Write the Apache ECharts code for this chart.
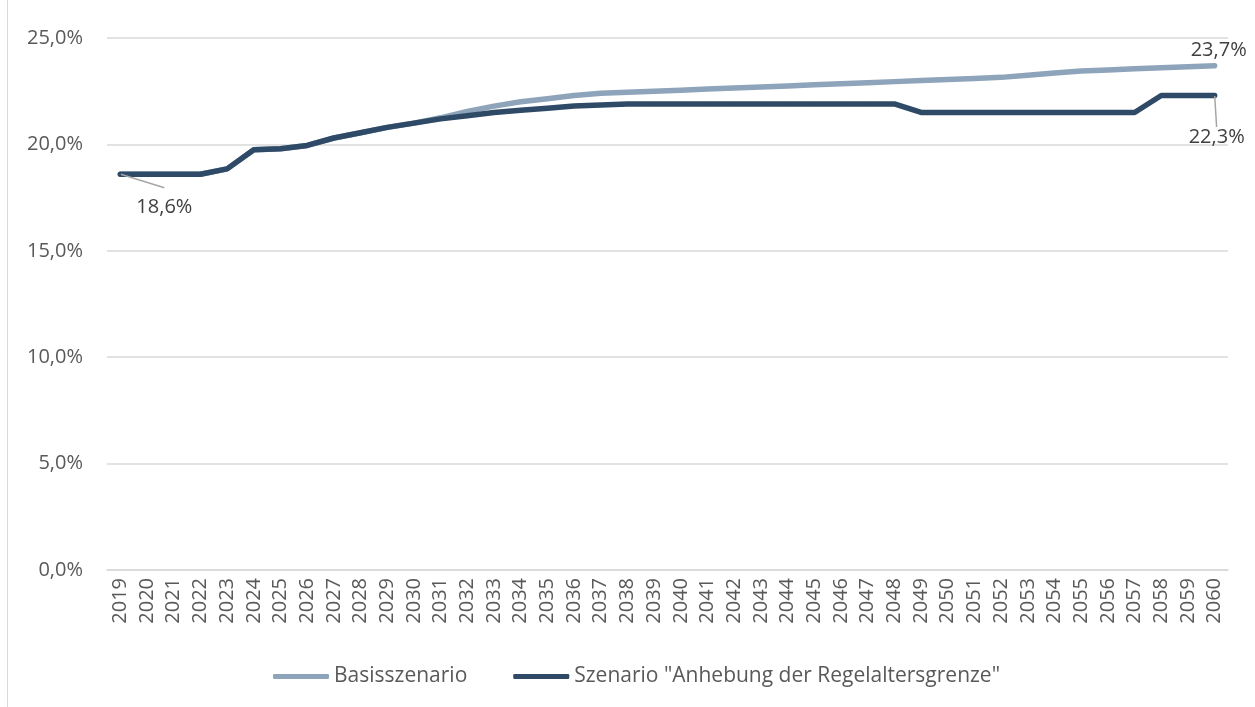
<!DOCTYPE html>
<html>
<head>
<meta charset="utf-8">
<script src="https://cdn.jsdelivr.net/npm/echarts@6/dist/echarts.min.js"></script>
<style>
  html, body { margin: 0; padding: 0; background: #fff; }
  #chart { width: 1255px; height: 707px; }
</style>
</head>
<body>
<div id="chart"></div>
<script>
// Jahre 2019 - 2060
var years = [];
for (var y = 2019; y <= 2060; y++) years.push(String(y));

var basis = [
  18.6, 18.6, 18.6, 18.6, 18.85, 19.75, 19.8, 19.95, 20.3, 20.55,
  20.8, 21.0, 21.25, 21.55, 21.8, 22.0, 22.15, 22.3, 22.4, 22.45,
  22.5, 22.55, 22.6, 22.65, 22.7, 22.75, 22.8, 22.85, 22.9, 22.95,
  23.0, 23.05, 23.1, 23.15, 23.25, 23.35, 23.45, 23.5, 23.55, 23.6,
  23.65, 23.7
];

var anhebung = [
  18.6, 18.6, 18.6, 18.6, 18.85, 19.75, 19.8, 19.95, 20.3, 20.55,
  20.8, 21.0, 21.2, 21.35, 21.5, 21.6, 21.7, 21.8, 21.85, 21.9,
  21.9, 21.9, 21.9, 21.9, 21.9, 21.9, 21.9, 21.9, 21.9, 21.9,
  21.5, 21.5, 21.5, 21.5, 21.5, 21.5, 21.5, 21.5, 21.5, 22.3,
  22.3, 22.3
];

var yTicks = [0, 5, 10, 15, 20, 25];

var FONT = 'Open Sans';
var txtColor = '#595959';

function fmt(v) {
  return v.toFixed(1).replace('.', ',') + '%';
}

// idxs: { dataIndex: extra label options }
function withLabels(arr, idxs) {
  return arr.map(function (v, i) {
    if (!(i in idxs)) return v;
    var lbl = {
      show: true,
      formatter: function (p) { return fmt(p.value); },
      color: '#404040',
      fontFamily: FONT,
      fontSize: 20
    };
    for (var k in idxs[i]) lbl[k] = idxs[i][k];
    return { value: v, label: lbl };
  });
}

var chart = echarts.init(document.getElementById('chart'));

var option = {
  animation: false,
  textStyle: { fontFamily: FONT },
  grid: { left: 107, right: 27, top: 38, bottom: 137 },
  graphic: [{
    type: 'line',
    shape: { x1: 7.5, y1: 0, x2: 7.5, y2: 707 },
    style: { stroke: '#D9D9D9', lineWidth: 1 }
  }],
  legend: {
    left: 268,
    top: 661,
    itemGap: 46,
    icon: 'roundRect',
    itemWidth: 56,
    itemHeight: 5,
    textStyle: { color: txtColor, fontFamily: FONT, fontSize: 21 },
    data: ['Basisszenario', 'Szenario "Anhebung der Regelaltersgrenze"']
  },
  xAxis: {
    type: 'category',
    data: years,
    boundaryGap: true,
    axisLine: { lineStyle: { color: '#D9D9D9', width: 1.5 } },
    axisTick: { show: false },
    axisLabel: {
      rotate: 90,
      interval: 0,
      margin: 8,
      color: txtColor,
      fontFamily: FONT,
      fontSize: 20
    }
  },
  yAxis: {
    type: 'value',
    min: 0,
    max: 25,
    interval: 5,
    axisLine: { show: false },
    axisTick: { show: false },
    splitLine: { lineStyle: { color: '#D9D9D9', width: 1.5 } },
    axisLabel: {
      margin: 24,
      color: txtColor,
      fontFamily: FONT,
      fontSize: 20,
      formatter: function (v) { return yTicks.indexOf(v) >= 0 ? fmt(v) : ''; }
    }
  },
  series: [
    {
      name: 'Basisszenario',
      type: 'line',
      data: withLabels(basis, { 41: {} }),
      symbol: 'circle',
      symbolSize: 1,
      lineStyle: { color: '#8EA4BA', width: 5.5, cap: 'round', join: 'round' },
      itemStyle: { color: '#8EA4BA' },
      labelLayout: { dx: 4, dy: 0 },
      z: 2
    },
    {
      name: 'Szenario "Anhebung der Regelaltersgrenze"',
      type: 'line',
      data: withLabels(anhebung, {
        0: { padding: [10, 0, 40, 0], backgroundColor: 'rgba(255,255,255,0)' },
        41: {}
      }),
      symbol: 'circle',
      symbolSize: 1,
      lineStyle: { color: '#2E4A66', width: 5.5, cap: 'round', join: 'round' },
      itemStyle: { color: '#2E4A66' },
      labelLine: { show: true, lineStyle: { color: '#A6A6A6', width: 1.5 } },
      labelLayout: function (p) {
        if (p.dataIndex === 0) return { dx: 44, dy: 89 };
        return { dx: 2, dy: 57 };
      },
      z: 3
    }
  ]
};

chart.setOption(option);
</script>
</body>
</html>
